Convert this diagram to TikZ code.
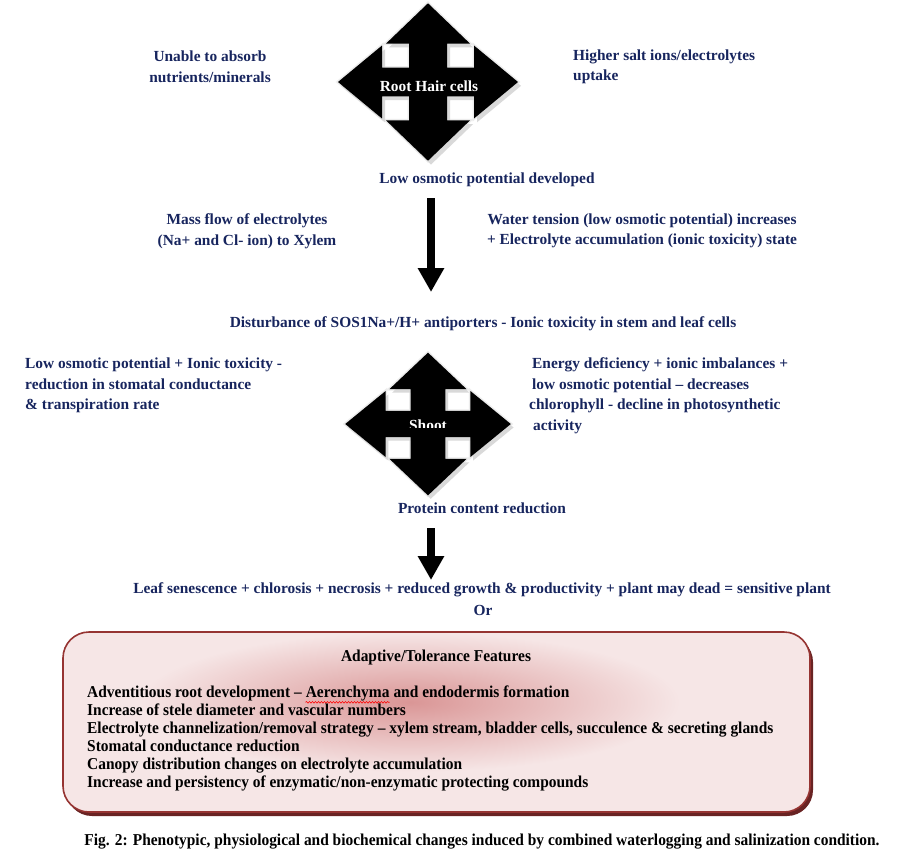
\documentclass[tikz,border=0pt]{standalone}
\usepackage{fontspec}
\setmainfont{Liberation Serif}[Ligatures=TeX]
\newfontfamily\narrowserif{Liberation Serif}[FakeStretch=0.93, Ligatures=TeX]
\usetikzlibrary{arrows.meta,decorations.pathmorphing}
\definecolor{navy}{RGB}{23,37,94}
\definecolor{boxedge}{RGB}{150,52,50}
\definecolor{boxshadow}{RGB}{105,35,35}
\definecolor{boxfill}{RGB}{246,230,230}
\definecolor{boxcore}{RGB}{218,150,150}

\def\crossoutline{(0,-82)--(42,-40)--(19,-40)--(19,-15)--(46,-15)--(46,-38)--(90,0)--(46,38)--(46,15)--(19,15)--(19,40)--(42,40)--(0,82)--(-42,40)--(-19,40)--(-19,15)--(-46,15)--(-46,38)--(-90,0)--(-46,-38)--(-46,-15)--(-19,-15)--(-19,-40)--(-42,-40)--cycle}

\tikzset{
  txt/.style={text=navy, inner sep=0pt, font=\fontsize{15.4}{20.5}\selectfont\bfseries},
  boxtxt/.style={text=black, inner sep=0pt, font=\fontsize{16.6}{18}\selectfont\narrowserif\bfseries},
  bigdown/.style={line width=8.5pt, -{Triangle[length=24pt,width=25pt]}},
  spellwave/.style={red, line width=0.6pt, decorate, decoration={snake, amplitude=0.8pt, segment length=3pt}},
  crossarrow/.pic={
    \draw[gray!15, line width=3pt, line join=miter] \crossoutline;
    \fill[gray!30, shift={(3,4)}] \crossoutline;
    \fill[black] \crossoutline;
  }
}

\begin{document}
\begin{tikzpicture}[x=1pt, y=-1pt]
\useasboundingbox (0,0) rectangle (901,859);
\fill[white] (0,0) rectangle (901,859);

% root hair cross
\pic[yscale=.96] at (428,82) {crossarrow};
\node[txt, text=white] (root) at (429,86) {Root Hair cells};
\node[txt, align=center] (unable) at (210,67) {Unable to absorb\\nutrients/minerals};
\node[txt, align=left, anchor=west] (higher) at (573,67) {Higher salt ions/electrolytes\\uptake};
\node[txt] (lowosm) at (487,180) {Low osmotic potential developed};

\coordinate (a1s) at (431,198);
\coordinate (a1e) at (431,292);
\draw[bigdown] (a1s) -- (a1e);
\node[txt, align=center] (massflow) at (247,231) {Mass flow of electrolytes\\(Na+ and Cl- ion) to Xylem};
\node[txt, align=center] (watert) at (642,231) {Water tension (low osmotic potential) increases\\+ Electrolyte accumulation (ionic toxicity) state};
\node[txt] (disturb) at (483,324) {Disturbance of SOS1Na+/H+ antiporters - Ionic toxicity in stem and leaf cells};

% shoot cross
\pic[xscale=.92, yscale=.87] at (428,424) {crossarrow};
\begin{scope}
\clip (380,410) rectangle (480,427.5);
\node[txt, text=white] (shoot) at (428,425) {Shoot};
\end{scope}
\node[txt, align=left, anchor=west] (leftblk) at (25,385.5) {Low osmotic potential + Ionic toxicity -\\reduction in stomatal conductance\\\& transpiration rate};
\node[txt, align=left, anchor=west] (rightblk) at (532,395.5) {Energy deficiency + ionic imbalances +\\low osmotic potential -- decreases\\\hspace*{-3pt}chlorophyll - decline in photosynthetic\\\hspace*{1pt}activity};
\node[txt] (protein) at (482,508) {Protein content reduction};

\coordinate (a2s) at (431,528);
\coordinate (a2e) at (431,580);
\draw[bigdown] (a2s) -- (a2e);
\node[txt] (leaf) at (482,590) {Leaf senescence + chlorosis + necrosis + reduced growth \& productivity + plant may dead = sensitive plant};
\node[txt] (orr) at (483,610) {Or};

% tolerance box
\fill[boxshadow, rounded corners=26pt] (66,636) rectangle (813,816);
\fill[boxfill, rounded corners=26pt] (63,632) rectangle (810,812);
\begin{scope}
\clip[rounded corners=26pt] (63,632) rectangle (810,812);
\shade[inner color=boxcore, outer color=boxfill] (410,702) ellipse (270 and 70);
\end{scope}
\draw[boxedge, line width=1.6pt, rounded corners=26pt] (63,632) rectangle (810,812);

\node[boxtxt] (title) at (436,657) {Adaptive/Tolerance Features};
\node[boxtxt, anchor=base west] (adv) at (87,697) {Adventitious root development --};
\node[boxtxt, anchor=base west] (aer) at ([xshift=3.6pt]adv.base east) {Aerenchyma};
\node[boxtxt, anchor=base west] (endo) at ([xshift=3.6pt]aer.base east) {and endodermis formation};
\draw[spellwave] ([yshift=-1.5pt]aer.south west) -- ([yshift=-1.5pt]aer.south east);
\node[boxtxt, anchor=base west] (stele) at (87,715) {Increase of stele diameter and vascular numbers};
\node[boxtxt, anchor=base west] (channel) at (87,733) {Electrolyte channelization/removal strategy -- xylem stream, bladder cells, succulence \& secreting glands};
\node[boxtxt, anchor=base west] (stomata) at (87,751) {Stomatal conductance reduction};
\node[boxtxt, anchor=base west] (canopy) at (87,769) {Canopy distribution changes on electrolyte accumulation};
\node[boxtxt, anchor=base west] (enzyme) at (87,787) {Increase and persistency of enzymatic/non-enzymatic protecting compounds};

\node[boxtxt] (caption) at (482,842) {Fig. 2: Phenotypic, physiological and biochemical changes induced by combined waterlogging and salinization condition.};
\end{tikzpicture}
\end{document}
